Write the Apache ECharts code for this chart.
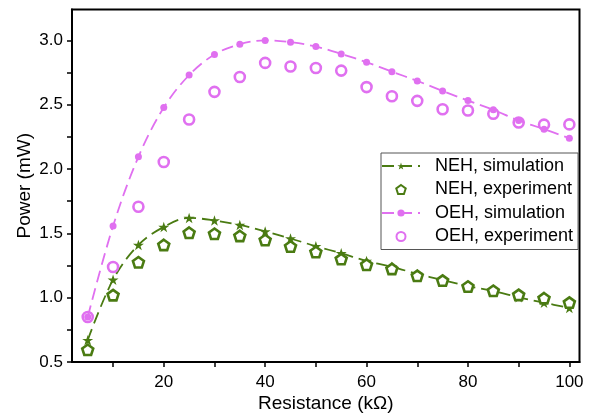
<!DOCTYPE html>
<html>
<head>
<meta charset="utf-8">
<script src="https://cdn.jsdelivr.net/npm/echarts@6/dist/echarts.min.js"></script>
<style>html,body{margin:0;padding:0;background:#fff;}#c{width:592px;height:414px;}</style>
</head>
<body>
<div id="c"></div>
<script>
const resistance = [5,10,15,20,25,30,35,40,45,50,55,60,65,70,75,80,85,90,95,100];
const nehSim = [0.67,1.14,1.41,1.55,1.62,1.60,1.565,1.515,1.46,1.40,1.345,1.285,1.24,1.185,1.137,1.09,1.052,1.003,0.961,0.92];
const nehExp = [0.595,1.02,1.275,1.41,1.505,1.497,1.48,1.448,1.398,1.355,1.30,1.256,1.224,1.17,1.133,1.087,1.054,1.022,0.996,0.962];
const oehSim = [0.85,1.557,2.095,2.478,2.73,2.89,2.97,3.0,2.986,2.952,2.895,2.83,2.757,2.685,2.607,2.532,2.46,2.377,2.31,2.24];
const oehExp = [0.85,1.238,1.707,2.055,2.385,2.60,2.715,2.825,2.797,2.785,2.765,2.637,2.566,2.53,2.465,2.455,2.43,2.362,2.345,2.347];
const xLabels = [20,40,60,80,100];
const xTicks = [10,20,30,40,50,60,70,80,90,100];
const yLabels = [0.5,1.0,1.5,2.0,2.5,3.0];
const yTicks = [0.5,0.75,1.0,1.25,1.5,1.75,2.0,2.25,2.5,2.75,3.0];

const GREEN = '#4a7b12';
const PINK = '#e070f0';
const STAR = 'path://M50 0 L61.23 34.55 L97.55 34.55 L68.17 55.9 L79.39 90.45 L50 69.1 L20.61 90.45 L31.83 55.9 L2.45 34.55 L38.77 34.55 Z';
const PENT = 'path://M50 0 L97.55 34.55 L79.39 90.45 L20.61 90.45 L2.45 34.55 Z';
const FONT = 'Liberation Sans, Arial, sans-serif';

const pairs = (ys) => resistance.map((x, i) => [x, ys[i]]);

const chart = echarts.init(document.getElementById('c'), null, {renderer: 'canvas'});
chart.setOption({
  animation: false,
  backgroundColor: '#fff',
  grid: {left: 72, right: 12.5, top: 9.5, bottom: 52, outerBoundsMode: 'none', containLabel: false,
    show: true, borderColor: '#000', borderWidth: 2, backgroundColor: 'transparent'},
  xAxis: {
    type: 'value', min: 1.9, max: 102,
    name: 'Resistance (kΩ)', nameLocation: 'middle', nameGap: 32, nameMoveOverlap: false,
    nameTextStyle: {fontFamily: FONT, fontSize: 19, color: '#000'},
    axisLine: {show: true, onZero: false, lineStyle: {color: '#000', width: 2}},
    axisTick: {show: true, inside: false, length: 5, customValues: xTicks, lineStyle: {color: '#000', width: 1.5}},
    axisLabel: {customValues: xLabels, fontFamily: FONT, fontSize: 17, color: '#000', margin: 12},
    splitLine: {show: false}
  },
  yAxis: {
    type: 'value', min: 0.5, max: 3.24,
    name: 'Power (mW)', nameLocation: 'middle', nameGap: 38, nameMoveOverlap: false,
    nameTextStyle: {fontFamily: FONT, fontSize: 19, color: '#000'},
    axisLine: {show: true, onZero: false, lineStyle: {color: '#000', width: 2}},
    axisTick: {show: true, inside: false, length: 5, customValues: yTicks, lineStyle: {color: '#000', width: 1.5}},
    axisLabel: {customValues: yLabels, fontFamily: FONT, fontSize: 17, color: '#000', margin: 9,
      formatter: v => v.toFixed(1)},
    splitLine: {show: false}
  },
  legend: {
    orient: 'vertical', left: 381, top: 153,
    padding: [4, 5, 4, 0],
    itemWidth: 38, itemHeight: 9, itemGap: 5.5,
    borderColor: '#555', borderWidth: 1, backgroundColor: '#fff',
    textStyle: {fontFamily: FONT, fontSize: 18, color: '#000', lineHeight: 18, padding: [0, 0, 0, 10]},
    data: ['NEH, simulation', 'NEH, experiment', 'OEH, simulation', 'OEH, experiment']
  },
  series: [
    {
      name: 'NEH, simulation', type: 'line', data: pairs(nehSim), smooth: 0.35,
      symbol: STAR, symbolSize: 11, symbolKeepAspect: true, showAllSymbol: true,
      lineStyle: {color: GREEN, width: 1.8, type: [12, 6]},
      itemStyle: {color: GREEN, borderWidth: 0}, z: 2
    },
    {
      name: 'NEH, experiment', type: 'scatter', data: pairs(nehExp),
      symbol: PENT, symbolSize: 11, symbolKeepAspect: true,
      itemStyle: {color: '#fff', borderColor: GREEN, borderWidth: 2.6, opacity: 1}, z: 3
    },
    {
      name: 'OEH, simulation', type: 'line', data: pairs(oehSim), smooth: 0.35,
      symbol: 'circle', symbolSize: 7, showAllSymbol: true,
      lineStyle: {color: PINK, width: 1.8, type: [12, 6]},
      itemStyle: {color: PINK, borderWidth: 0}, z: 4
    },
    {
      name: 'OEH, experiment', type: 'scatter', data: pairs(oehExp),
      symbol: 'circle', symbolSize: 10,
      itemStyle: {color: 'rgba(255,255,255,0)', borderColor: PINK, borderWidth: 2.6, opacity: 1}, z: 5
    }
  ]
});
</script>
</body>
</html>
